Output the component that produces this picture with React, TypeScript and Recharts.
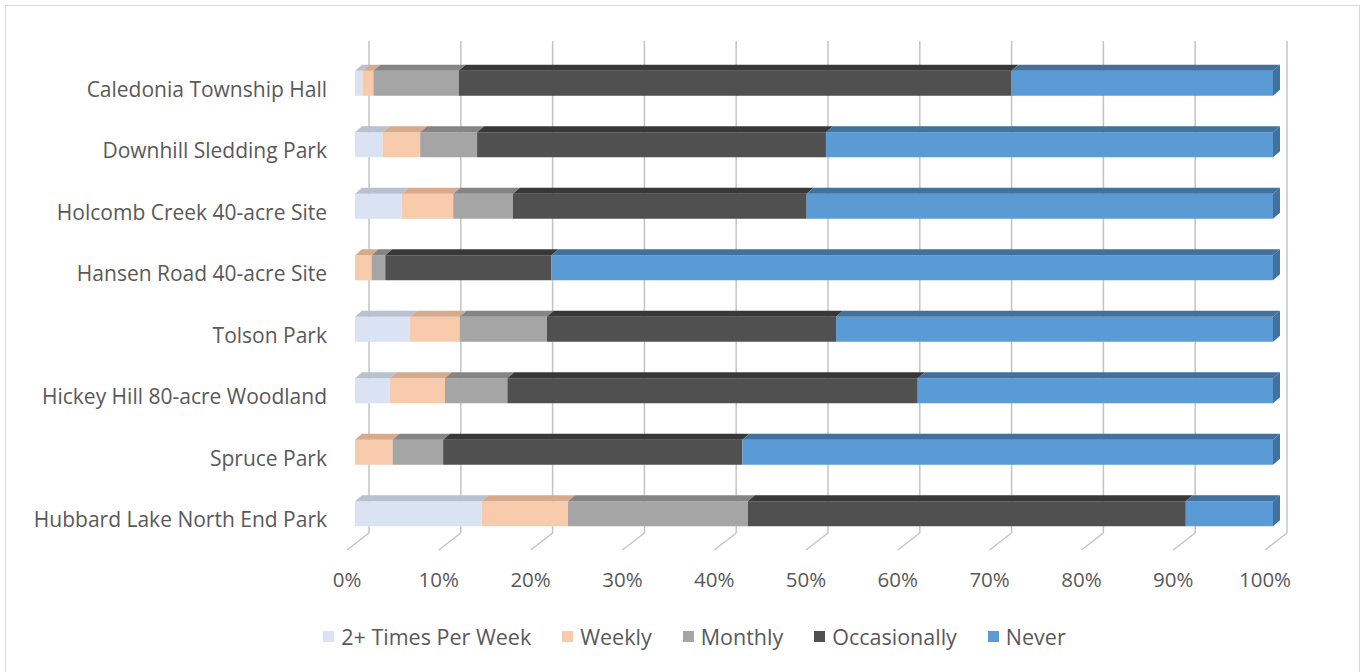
import { BarChart, Bar, XAxis, YAxis, CartesianGrid } from "recharts";

const CATEGORIES = [
  "Caledonia Township Hall",
  "Downhill Sledding Park",
  "Holcomb Creek 40-acre Site",
  "Hansen Road 40-acre Site",
  "Tolson Park",
  "Hickey Hill 80-acre Woodland",
  "Spruce Park",
  "Hubbard Lake North End Park",
];

const TWO_PLUS = [0.8, 3.0, 5.1, 0, 6.0, 3.8, 0, 13.8];
const WEEKLY = [1.2, 4.1, 5.6, 1.8, 5.4, 6.0, 4.1, 9.4];
const MONTHLY = [9.3, 6.2, 6.5, 1.5, 9.5, 6.8, 5.5, 19.6];
const OCCASIONALLY = [60.2, 38.0, 32.0, 18.1, 31.5, 44.7, 32.6, 47.7];
const NEVER = [28.5, 48.7, 50.8, 78.6, 47.6, 38.7, 57.8, 9.5];

const X_TICKS = [0, 10, 20, 30, 40, 50, 60, 70, 80, 90, 100];

const SERIES = [
  { key: "twoPlus", name: "2+ Times Per Week", color: "#dae3f3", top: "#b9c1cf" },
  { key: "weekly", name: "Weekly", color: "#f8cbad", top: "#d6aa8c" },
  { key: "monthly", name: "Monthly", color: "#a5a5a5", top: "#858585" },
  { key: "occasionally", name: "Occasionally", color: "#505050", top: "#383838" },
  { key: "never", name: "Never", color: "#5b9bd5", top: "#41719c" },
];

const data = CATEGORIES.map((name, i) => ({
  name,
  twoPlus: TWO_PLUS[i],
  weekly: WEEKLY[i],
  monthly: MONTHLY[i],
  occasionally: OCCASIONALLY[i],
  never: NEVER[i],
}));

const FONT = "'Open Sans', sans-serif";
const TEXT = "#595959";
const DX = 7; // 3d depth of the bars
const DY = 6;

function Bar3D(props: any) {
  const { x, y, width, height, fill, topFill, side } = props;
  if (!width || width <= 0) return null;
  return (
    <g>
      <rect x={x} y={y} width={width} height={height} fill={fill} />
      <polygon
        points={`${x},${y} ${x + DX},${y - DY} ${x + width + DX},${y - DY} ${x + width},${y}`}
        fill={topFill}
      />
      {side && (
        <polygon
          points={`${x + width},${y} ${x + width + DX},${y - DY} ${x + width + DX},${y + height - DY} ${x + width},${y + height}`}
          fill={topFill}
        />
      )}
    </g>
  );
}

// back wall gridline + floor diagonal
function GridLine(props: any) {
  const { x1, index } = props;
  const bx = x1 + 14;
  return (
    <g key={`grid-${index}`}>
      <line x1={bx} y1={41} x2={bx} y2={533} stroke="#c4c4c4" strokeWidth={1.5} />
      <line x1={bx} y1={533} x2={x1 - 8} y2={550} stroke="#c4c4c4" strokeWidth={1.5} />
    </g>
  );
}

function CategoryTick(props: any) {
  const { y, payload } = props;
  return (
    <text x={327} y={y + 13} textAnchor="end" fill={TEXT} fontSize={21} fontFamily={FONT}>
      {payload.value}
    </text>
  );
}

function PercentTick(props: any) {
  const { x, payload } = props;
  return (
    <text x={x - 8} y={587} textAnchor="middle" fill={TEXT} fontSize={20.5} fontFamily={FONT}>
      {payload.value}%
    </text>
  );
}

function ChartLegend() {
  return (
    <div
      style={{
        position: "absolute",
        left: 12,
        top: 622,
        width: 1365,
        display: "flex",
        justifyContent: "center",
        gap: 31,
        fontFamily: FONT,
        fontSize: 21.5,
        color: TEXT,
      }}
    >
      {SERIES.map((s) => (
        <div key={s.key} style={{ display: "flex", alignItems: "center", gap: 7 }}>
          <span style={{ width: 11, height: 11, background: s.color, display: "inline-block" }} />
          <span>{s.name}</span>
        </div>
      ))}
    </div>
  );
}

export default function App() {
  return (
    <div style={{ position: "absolute", left: 0, top: 0, width: 1365, height: 672, overflow: "hidden", background: "#fff" }}>
      <div
        style={{
          position: "absolute",
          left: 5,
          top: 5,
          width: 1353,
          height: 700,
          border: "1.5px solid #d9d9d9",
        }}
      />
      <div style={{ position: "absolute", left: 0, top: 0 }}>
        <BarChart
          layout="vertical"
          width={1365}
          height={672}
          data={data}
          margin={{ top: 52.75, right: 92, bottom: 87.25, left: 10 }}
        >
          <CartesianGrid horizontal={false} vertical={(p: any) => <GridLine {...p} />} />
          <XAxis
            type="number"
            domain={[0, 100]}
            ticks={X_TICKS}
            axisLine={false}
            tickLine={false}
            height={40}
            tick={<PercentTick />}
          />
          <YAxis
            type="category"
            dataKey="name"
            width={345}
            axisLine={false}
            tickLine={false}
            tick={<CategoryTick />}
          />
          {SERIES.map((s, i) => (
            <Bar
              key={s.key}
              dataKey={s.key}
              name={s.name}
              stackId="a"
              fill={s.color}
              barSize={25}
              isAnimationActive={false}
              shape={(p: any) => <Bar3D {...p} fill={s.color} topFill={s.top} side={i === SERIES.length - 1} />}
            />
          ))}
        </BarChart>
      </div>
      <ChartLegend />
    </div>
  );
}
